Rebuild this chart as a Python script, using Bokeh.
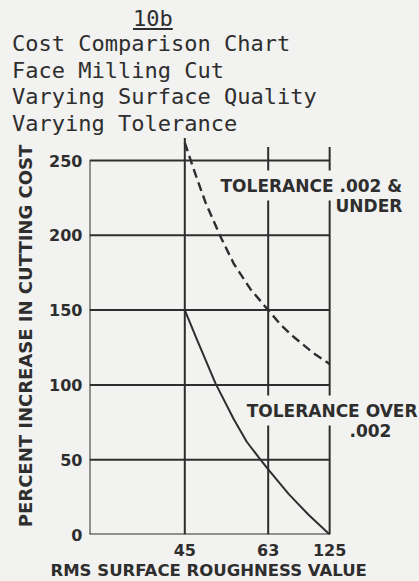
from bokeh.plotting import figure
from bokeh.layouts import column
from bokeh.models import Range1d, FixedTicker, Label, Title, Div
from bokeh.embed import file_html
from bokeh.resources import INLINE

# ---- data ----
roughness_labels = ["45", "63", "125"]
roughness_pos = [1.0, 1.875, 2.52]
percent_ticks = [0, 50, 100, 150, 200, 250]

tol_under_x = [1.0, 1.094, 1.217, 1.375, 1.514, 1.689, 1.875, 2.01, 2.144, 2.354, 2.52]
tol_under_y = [262, 244, 222, 199, 181, 164, 150, 140, 132, 121, 114]
tol_over_x = [1.0, 1.13, 1.322, 1.514, 1.65, 1.794, 1.875, 2.091, 2.301, 2.52]
tol_over_y = [150, 130, 101, 77, 62, 50, 43.5, 27, 13, 0]

chart_number = "10b"
title_lines = ["Cost Comparison Chart", "Face Milling Cut",
               "Varying Surface Quality", "Varying Tolerance"]

BG = "#f2f2f0"
INK = "#2e2e2e"
PAD = 5

def X(px):
    return (px - 89) / 95.3

def Y(py):
    return (534 - py) / 1.496

# ---- title block ----
spans = ['<span style="position:absolute;left:133px;top:8px;'
         'text-decoration:underline;">%s</span>' % chart_number]
for i, t in enumerate(title_lines):
    spans.append('<span style="position:absolute;left:12px;top:%.1fpx;'
                 'white-space:pre;">%s</span>' % (33.4 + i * 26.5, t))
div = Div(text='<div style="position:relative;width:419px;height:136px;'
               "font-family:'DejaVu Sans Mono';font-size:22px;line-height:22px;"
               'color:%s;">%s</div>' % (INK, "".join(spans)),
          width=419, height=136, margin=0)

# ---- chart ----
p = figure(width=419, height=445,
           x_range=Range1d(0, 330 / 95.3), y_range=Range1d(0, 397 / 1.496),
           output_backend="svg", toolbar_location=None,
           min_border_left=89, min_border_right=0,
           min_border_top=1, min_border_bottom=47,
           background_fill_color=BG, border_fill_color=BG,
           outline_line_color=None)
p.grid.visible = False

p.xaxis.ticker = FixedTicker(ticks=roughness_pos)
p.xaxis.major_label_overrides = dict(zip(roughness_pos, roughness_labels))
p.yaxis.ticker = FixedTicker(ticks=percent_ticks)
for ax in (p.xaxis[0], p.yaxis[0]):
    ax.axis_line_color = None
    ax.major_tick_line_color = None
    ax.minor_tick_line_color = None
    ax.major_tick_out = 0
    ax.major_tick_in = 0
    ax.minor_tick_out = 0
    ax.major_label_text_font = "DejaVu Sans"
    ax.major_label_text_font_style = "bold"
    ax.major_label_text_font_size = "16px"
    ax.major_label_text_color = INK
p.xaxis.major_label_standoff = 9
p.yaxis.major_label_standoff = 7
p.yaxis.axis_label = "PERCENT INCREASE IN CUTTING COST"
p.yaxis.axis_label_text_font = "DejaVu Sans"
p.yaxis.axis_label_text_font_style = "bold"
p.yaxis.axis_label_text_font_size = "18px"
p.yaxis.axis_label_text_color = INK
p.yaxis.axis_label_standoff = 10

p.add_layout(Title(text="RMS SURFACE ROUGHNESS VALUE", align="left",
                   offset=-39, standoff=0, text_font="DejaVu Sans",
                   text_font_style="bold", text_font_size="16.5px",
                   text_color=INK), "below")

# grid lines
top = percent_ticks[-1]
p.segment(x0=[0] * len(percent_ticks), y0=percent_ticks,
          x1=[roughness_pos[-1]] * len(percent_ticks), y1=percent_ticks,
          line_color=INK, line_width=2)
p.segment(x0=[0] + roughness_pos, y0=[0] * 4,
          x1=[0] + roughness_pos, y1=[top, top + 15, top + 9, top + 9],
          line_color=INK, line_width=2)

# curves
p.line(tol_under_x, tol_under_y, line_color=INK, line_width=2.4,
       line_dash="9 5", line_join="round")
p.line(tol_over_x, tol_over_y, line_color=INK, line_width=2,
       line_join="round")

def lab(text, px, py, align="left", bg=None):
    dx = -PAD if align == "left" else PAD
    p.add_layout(Label(x=X(px + dx), y=Y(py - PAD), text=text, text_align=align,
                       text_baseline="alphabetic", text_font="DejaVu Sans",
                       text_font_size="17px", text_font_style="bold",
                       text_color=INK, background_fill_color=bg, padding=PAD))

lab("TOLERANCE .002 &", 220, 190, bg=BG)
lab("UNDER", 335, 210)
lab("TOLERANCE OVER", 417, 415, align="right", bg=BG)
lab(".002", 349, 435)

layout = column(div, p, spacing=0)
html = file_html(layout, INLINE)
html = html.replace("</head>", "<style>body{background:%s;}</style></head>" % BG, 1)
open("out.html", "w").write(html)
